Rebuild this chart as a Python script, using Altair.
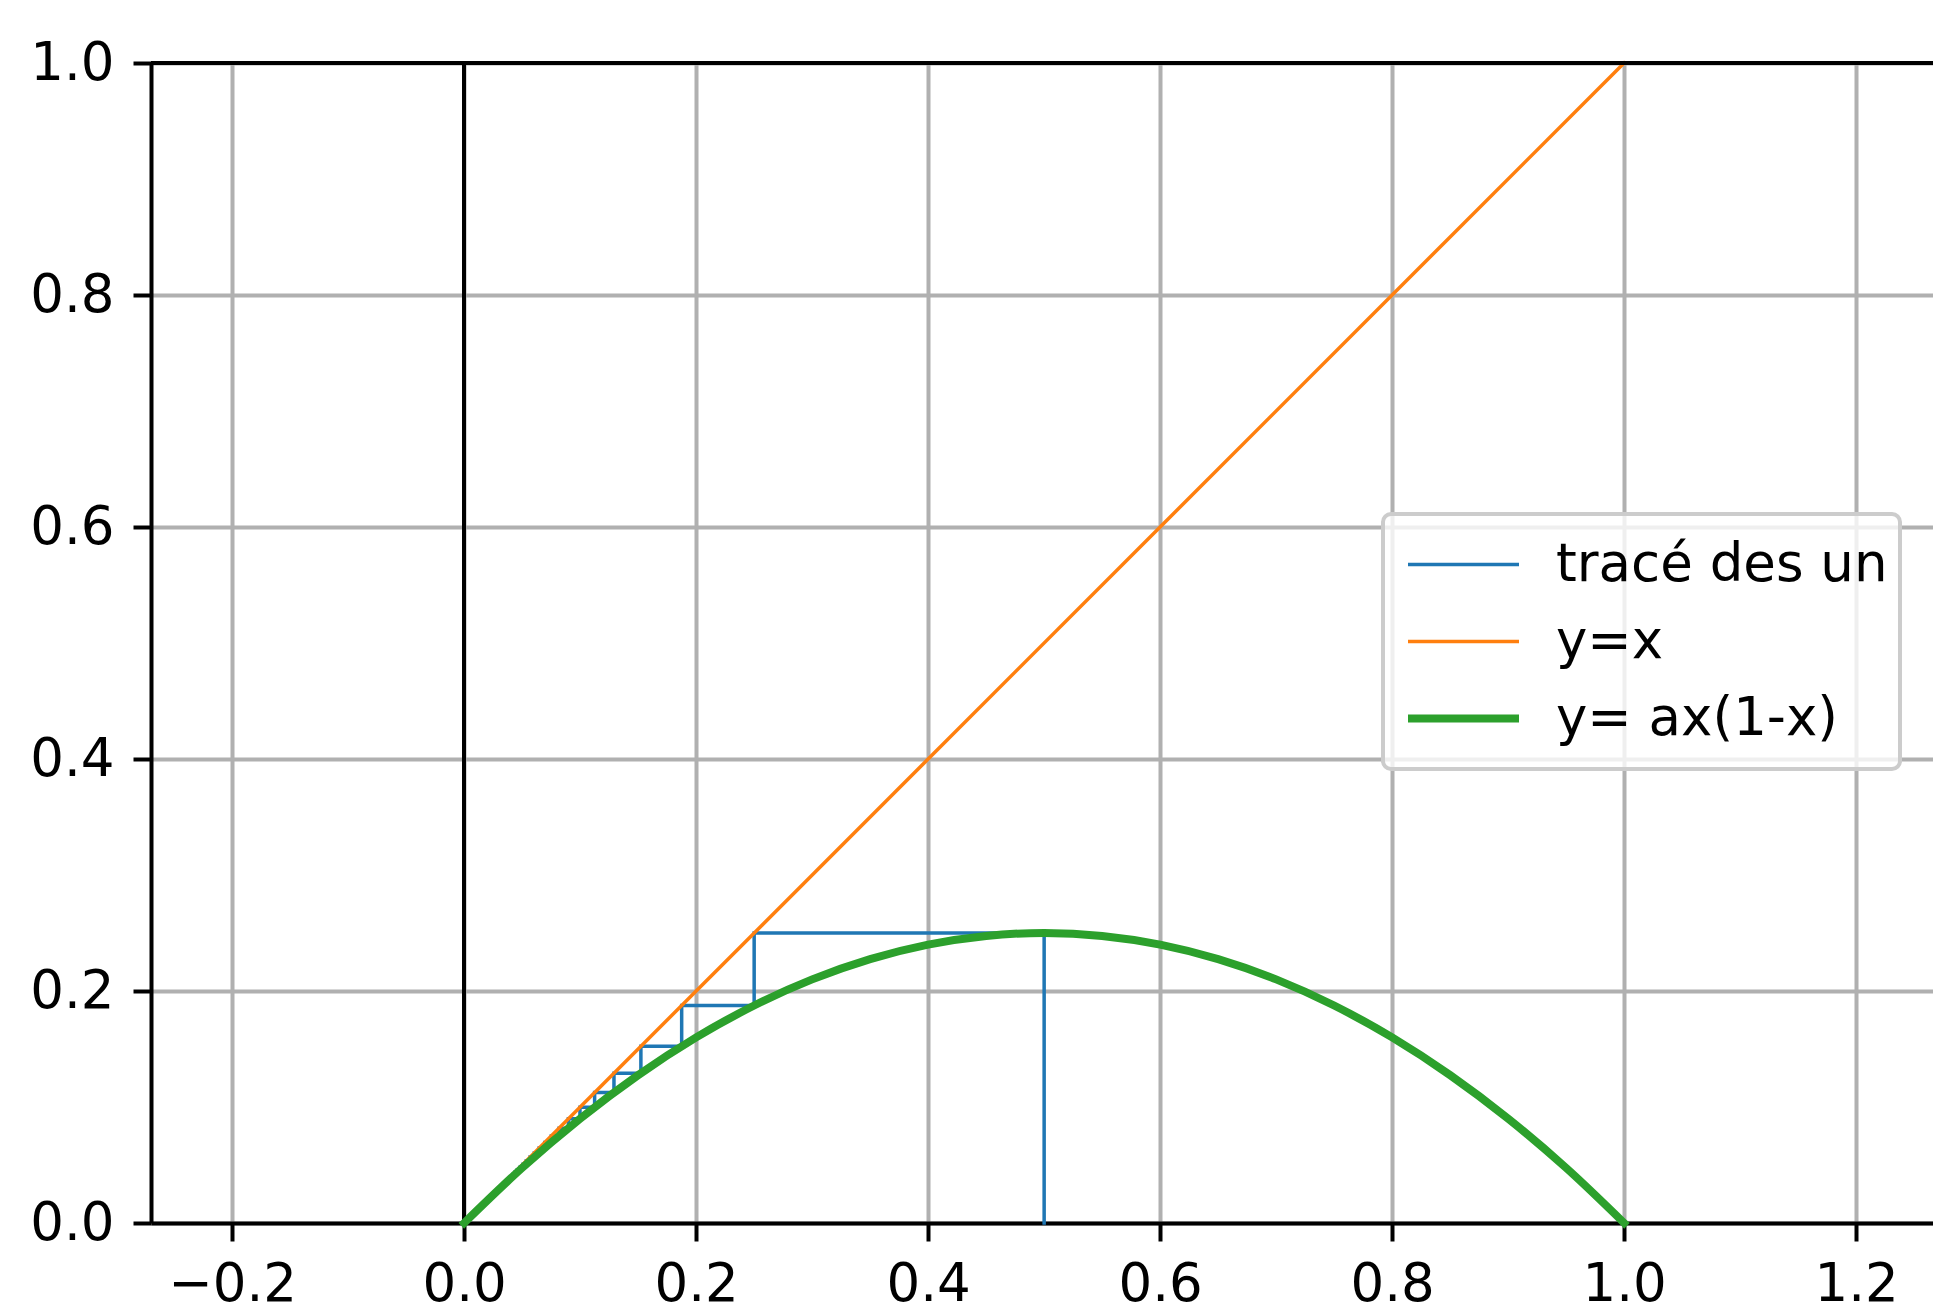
import altair as alt
import pandas as pd

# ---------------- data ----------------
SERIES = ["tracé des un", "y=x", "y= ax(1-x)"]
COLORS = ["#1f77b4", "#ff7f0e", "#2ca02c"]
WIDTHS = [3.5, 3.5, 8]

# successive terms u_n of the sequence (cobweb)
u_values = [0.5, 0.25, 0.1875, 0.15234, 0.12913, 0.11246, 0.09981, 0.08985,
            0.08178, 0.07509, 0.06945, 0.06463, 0.06045, 0.05680, 0.05357,
            0.05070, 0.04813, 0.04581, 0.04371, 0.04180, 0.04005]

diag_x = [0.0, 1.0]
diag_y = [0.0, 1.0]

curve_x = [0.0, 0.05, 0.1, 0.15, 0.2, 0.25, 0.3, 0.35, 0.4, 0.45, 0.5,
           0.55, 0.6, 0.65, 0.7, 0.75, 0.8, 0.85, 0.9, 0.95, 1.0]
curve_y = [0.0, 0.0475, 0.09, 0.1275, 0.16, 0.1875, 0.21, 0.2275, 0.24, 0.2475, 0.25,
           0.2475, 0.24, 0.2275, 0.21, 0.1875, 0.16, 0.1275, 0.09, 0.0475, 0.0]

x_ticks = [-0.2, 0.0, 0.2, 0.4, 0.6, 0.8, 1.0, 1.2]
y_ticks = [0.0, 0.2, 0.4, 0.6, 0.8, 1.0]

# ---------------- tables ----------------
cob = [(u_values[0], 0.0)]
for i in range(len(u_values) - 1):
    cob.append((u_values[i], u_values[i + 1]))
    cob.append((u_values[i + 1], u_values[i + 1]))

rows = []
for k, (x, y) in enumerate(cob):
    rows.append({"series": SERIES[0], "x": x, "y": y, "idx": k})
for k, (x, y) in enumerate(zip(diag_x, diag_y)):
    rows.append({"series": SERIES[1], "x": x, "y": y, "idx": k})
for k, (x, y) in enumerate(zip(curve_x, curve_y)):
    rows.append({"series": SERIES[2], "x": x, "y": y, "idx": k})
df = pd.DataFrame(rows)

FONT = "DejaVu Sans"

legend = alt.Legend(
    title=None, orient="none", legendX=1232, legendY=451,
    symbolType="stroke", symbolSize=12321, clipHeight=77, rowPadding=0,
    labelFontSize=53, labelFont=FONT, labelColor="black", labelOffset=33,
    labelLimit=900, padding=12, symbolOffset=9,
    fillColor="rgba(255,255,255,0.8)", strokeColor="#cccccc", cornerRadius=8,
)

xenc = alt.X("x:Q", scale=alt.Scale(domain=[-0.27, 1.2663], nice=False, zero=False),
             axis=alt.Axis(values=x_ticks, format=".1f", title=None, labelPadding=17))
yenc = alt.Y("y:Q", scale=alt.Scale(domain=[0, 1], nice=False, zero=False),
             axis=alt.Axis(values=y_ticks, format=".1f", title=None, labelPadding=19))

def series_layer(name):
    return alt.Chart(df).transform_filter(alt.datum.series == name).mark_line(
        strokeCap="square", interpolate="monotone" if name == SERIES[2] else "linear"
    ).encode(
        x=xenc, y=yenc, order="idx:Q",
        color=alt.Color("series:N", sort=SERIES,
                        scale=alt.Scale(domain=SERIES, range=COLORS), legend=legend),
        strokeWidth=alt.StrokeWidth("series:N", sort=SERIES,
                                    scale=alt.Scale(type="ordinal", domain=SERIES, range=WIDTHS),
                                    legend=legend),
    )

vline = alt.Chart(df).mark_rule(color="black", strokeWidth=3.5).encode(x=alt.datum(0.0))
topline = alt.Chart(df).mark_rule(color="black", strokeWidth=4).encode(y=alt.datum(1.0))

chart = alt.layer(
    vline,
    series_layer(SERIES[0]),
    series_layer(SERIES[1]),
    series_layer(SERIES[2]),
    topline,
).properties(
    width=1782, height=1160,
    autosize=alt.AutoSizeParams(type="none"),
    padding={"left": 151, "top": 63, "right": 0, "bottom": 89},
    background="white",
).configure_view(stroke=None).configure_axis(
    labelFont=FONT, labelFontSize=53, labelColor="black",
    tickSize=18, tickWidth=4, tickColor="black",
    domainColor="black", domainWidth=4,
    grid=True, gridColor="#b0b0b0", gridWidth=4,
).configure_legend(strokeWidth=4)

chart.save("out.html", embed_options={"renderer": "svg", "actions": False})
